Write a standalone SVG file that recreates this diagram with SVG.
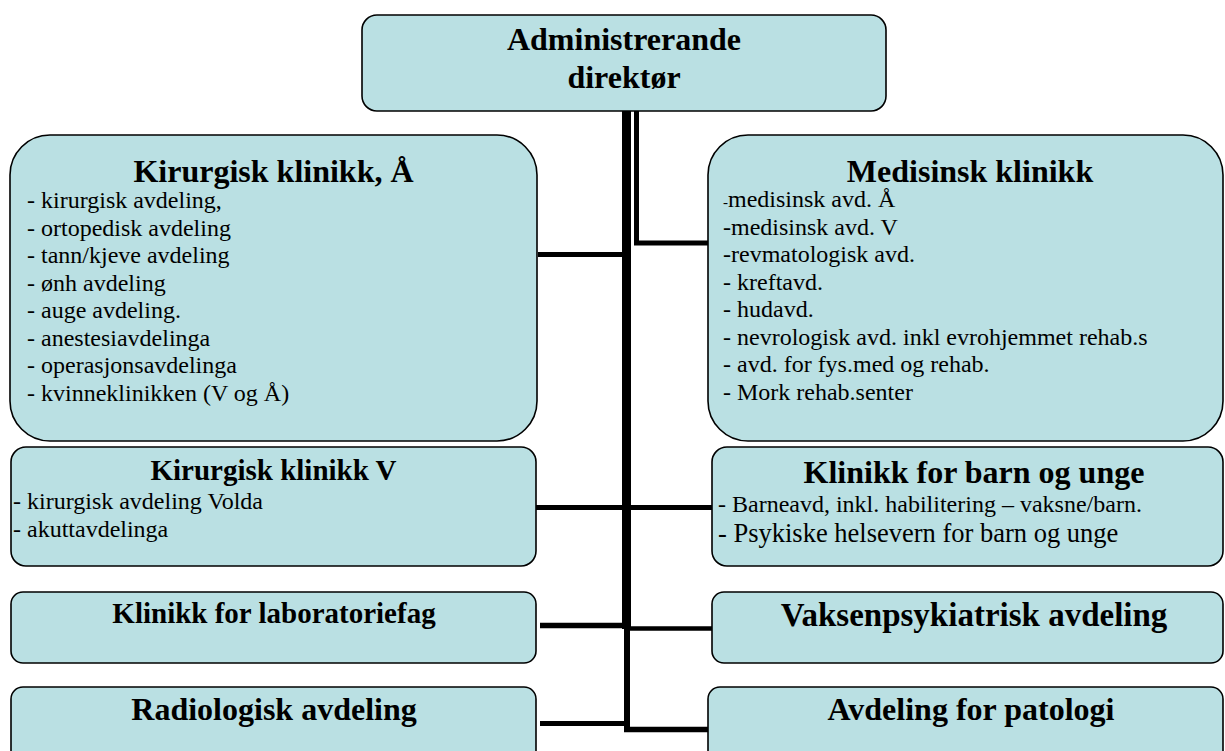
<svg xmlns="http://www.w3.org/2000/svg" width="1225" height="751" viewBox="0 0 1225 751">
<style>
.box{fill:#BAE0E3;stroke:#000;stroke-width:1.6}
.t{font-family:"Liberation Serif","Times New Roman",serif;font-weight:bold;fill:#000;text-anchor:middle}
.b{font-family:"Liberation Serif","Times New Roman",serif;fill:#000}
.c{stroke:#000;fill:none;stroke-linecap:butt}
</style>
<rect width="1225" height="751" fill="#fff"/>
<g id="connectors">
<line class="c" x1="626.5" y1="110" x2="626.5" y2="629" stroke-width="9"/>
<line class="c" x1="627" y1="628" x2="627" y2="732" stroke-width="6"/>
<polyline class="c" points="636.5,110 636.5,243 708,243" stroke-width="5"/>
<line class="c" x1="538" y1="254.5" x2="623" y2="254.5" stroke-width="5"/>
<line class="c" x1="536" y1="507.5" x2="712" y2="507.5" stroke-width="5"/>
<line class="c" x1="540" y1="625.5" x2="627" y2="625.5" stroke-width="5.5"/>
<line class="c" x1="627" y1="628.5" x2="712" y2="628.5" stroke-width="4.5"/>
<line class="c" x1="540" y1="723.5" x2="627" y2="723.5" stroke-width="5"/>
<line class="c" x1="624" y1="729.5" x2="708" y2="729.5" stroke-width="5.5"/>
</g>
<g id="node-direktor">
<rect class="box" x="362" y="15" width="524" height="96" rx="15"/>
<text class="t" font-size="32" x="624" y="50">Administrerande</text>
<text class="t" font-size="32" x="624" y="88">direktør</text>
</g>
<g id="node-kirurgisk-a">
<rect class="box" x="10" y="135" width="527" height="306" rx="40"/>
<text class="t" font-size="32" x="273.5" y="182">Kirurgisk klinikk, Å</text>
<text class="b" font-size="24" x="27">
<tspan x="27" y="208">- kirurgisk avdeling,</tspan>
<tspan x="27" y="235.5">- ortopedisk avdeling</tspan>
<tspan x="27" y="263">- tann/kjeve avdeling</tspan>
<tspan x="27" y="290.5">- ønh avdeling</tspan>
<tspan x="27" y="318">- auge avdeling.</tspan>
<tspan x="27" y="345.5">- anestesiavdelinga</tspan>
<tspan x="27" y="373">- operasjonsavdelinga</tspan>
<tspan x="27" y="400.5">- kvinneklinikken (V og Å)</tspan>
</text>
</g>
<g id="node-medisinsk">
<rect class="box" x="708" y="135" width="515" height="306" rx="40"/>
<text class="t" font-size="32" x="970" y="182">Medisinsk klinikk</text>
<text class="b" font-size="24">
<tspan x="723" y="207"><tspan font-size="15">-</tspan>medisinsk avd. Å</tspan>
<tspan x="723" y="234.5">-medisinsk avd. V</tspan>
<tspan x="723" y="262">-revmatologisk avd.</tspan>
<tspan x="723" y="289.5">- kreftavd.</tspan>
<tspan x="723" y="317">- hudavd.</tspan>
<tspan x="723" y="344.5">- nevrologisk avd. inkl evrohjemmet rehab.s</tspan>
<tspan x="723" y="372">- avd. for fys.med og rehab.</tspan>
<tspan x="723" y="399.5">- Mork rehab.senter</tspan>
</text>
</g>
<g id="node-kirurgisk-v">
<rect class="box" x="11" y="447" width="525" height="119" rx="15"/>
<text class="t" font-size="29" x="273.5" y="480">Kirurgisk klinikk V</text>
<text class="b" font-size="24">
<tspan x="13" y="509">- kirurgisk avdeling Volda</tspan>
<tspan x="13" y="537">- akuttavdelinga</tspan>
</text>
</g>
<g id="node-barn">
<rect class="box" x="712" y="447" width="511" height="119" rx="15"/>
<text class="t" font-size="32" x="974" y="483">Klinikk for barn og unge</text>
<text class="b">
<tspan x="718" y="512" font-size="24">- Barneavd, inkl. habilitering – vaksne/barn.</tspan>
<tspan x="718" y="542" font-size="26.5">- Psykiske helsevern for barn og unge</tspan>
</text>
</g>
<g id="node-lab">
<rect class="box" x="11" y="592" width="525" height="71" rx="12"/>
<text class="t" font-size="29" x="274" y="623">Klinikk for laboratoriefag</text>
</g>
<g id="node-vaksen">
<rect class="box" x="712" y="592" width="511" height="71" rx="12"/>
<text class="t" font-size="33" x="974" y="626">Vaksenpsykiatrisk avdeling</text>
</g>
<g id="node-radiologisk">
<rect class="box" x="11" y="687" width="525" height="85" rx="12"/>
<text class="t" font-size="32" x="274" y="720">Radiologisk avdeling</text>
</g>
<g id="node-patologi">
<rect class="box" x="708" y="687" width="515" height="85" rx="12"/>
<text class="t" font-size="32" x="971" y="720">Avdeling for patologi</text>
</g>
</svg>
